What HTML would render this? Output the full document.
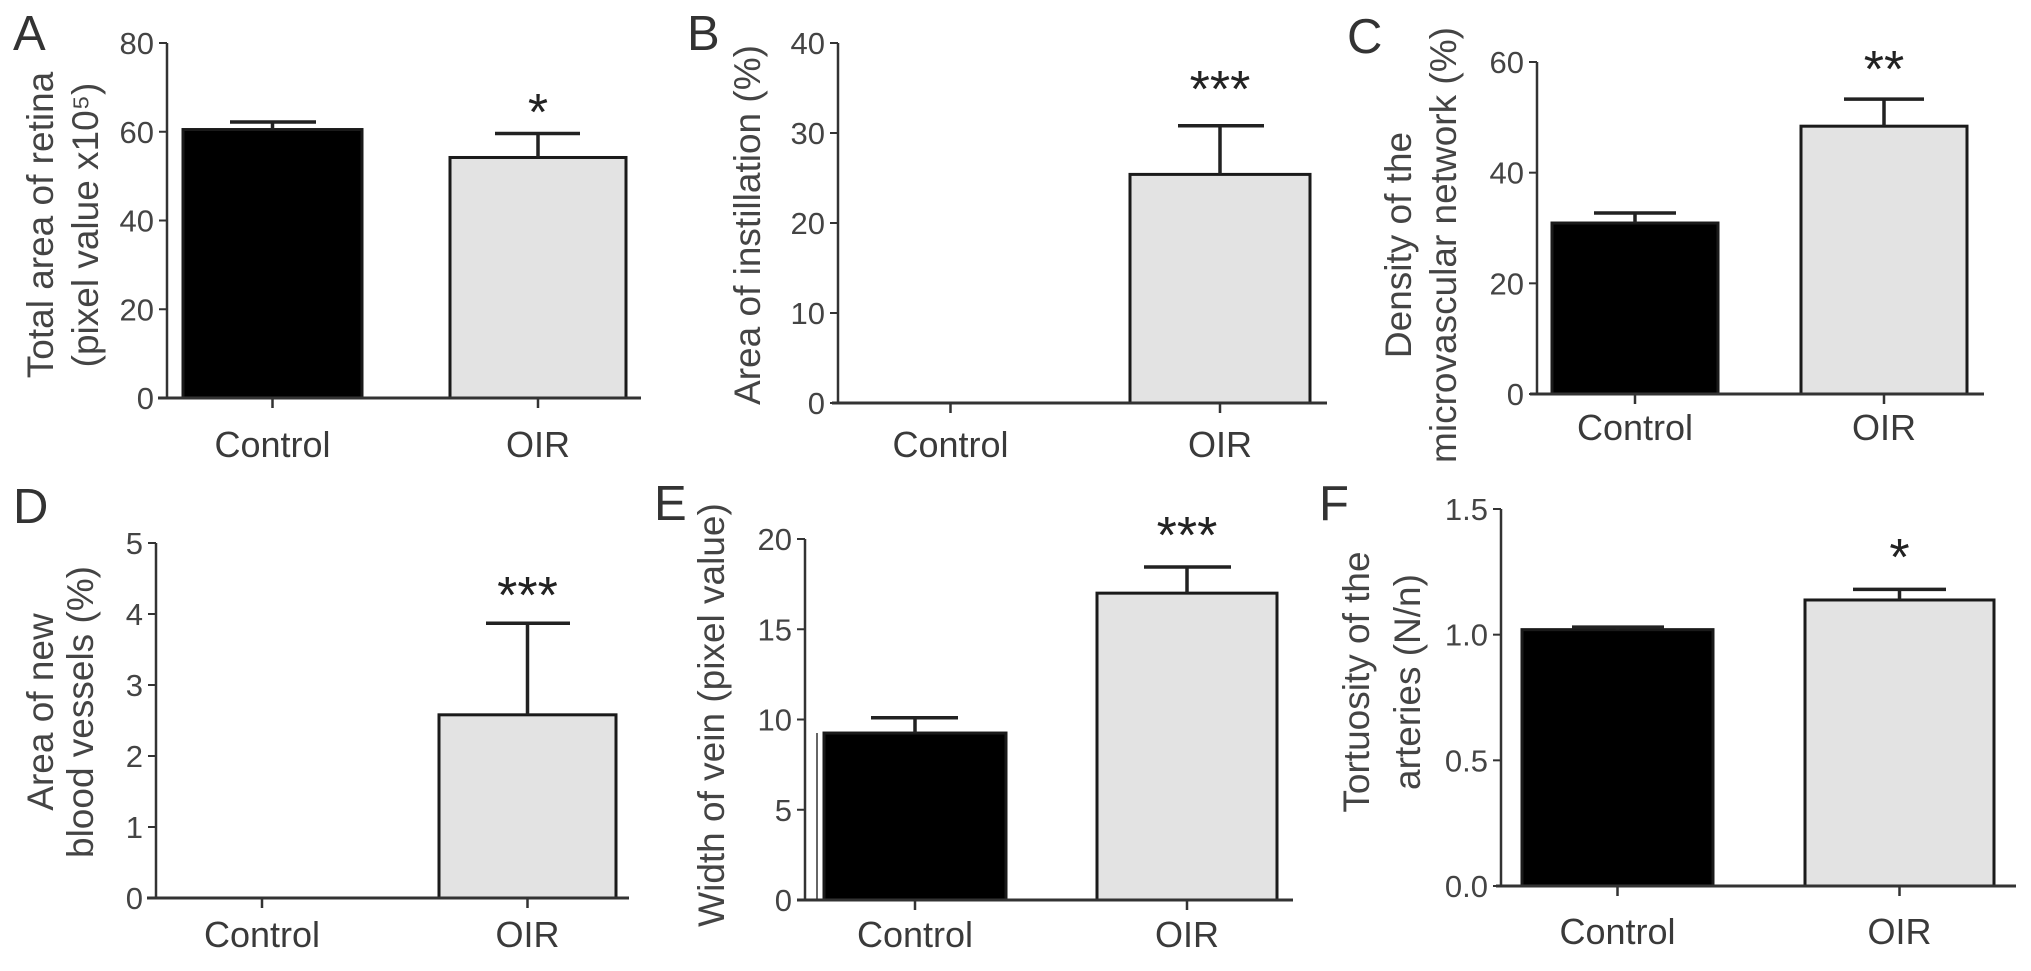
<!DOCTYPE html>
<html><head><meta charset="utf-8"><style>
html,body{margin:0;padding:0;background:#fff;}
svg{display:block;font-family:"Liberation Sans",Arial,sans-serif;}
</style></head><body>
<svg id="fig" width="2031" height="971" viewBox="0 0 2031 971" xmlns="http://www.w3.org/2000/svg"></svg>
<script>
// ---- data ----
const categories = ["Control", "OIR"];
const valuesA = [60.5, 54.2];
const errorsA = [62.2, 59.6];
const ticksA = [0, 20, 40, 60, 80];
const valuesB = [0, 25.4];
const errorsB = [0, 30.8];
const ticksB = [0, 10, 20, 30, 40];
const valuesC = [30.9, 48.4];
const errorsC = [32.7, 53.3];
const ticksC = [0, 20, 40, 60];
const valuesD = [0, 2.58];
const errorsD = [0, 3.87];
const ticksD = [0, 1, 2, 3, 4, 5];
const valuesE = [9.25, 17.0];
const errorsE = [10.1, 18.45];
const ticksE = [0, 5, 10, 15, 20];
const valuesF = [1.02, 1.138];
const errorsF = [1.03, 1.18];
const ticksF = ["0.0", "0.5", "1.0", "1.5"];
const starsA = "*", starsB = "***", starsC = "**", starsD = "***", starsE = "***", starsF = "*";

// ---- layout ----
const panels = [
 {id:"a", letter:"A", lx:13, ly:50, ax:167, y0:398, y1:43, max:80, xs:158, xe:641, bars:[[183,362],[450,626]], caps:[[230,316],[495,580]], ticks:ticksA, vals:valuesA, errs:errorsA, stars:starsA, sy:100, labY:457, title:["Total area of retina","(pixel value x10⁵)"], tx:[40,85], ty:225},
 {id:"b", letter:"B", lx:687, ly:50, ax:838, y0:403, y1:43, max:40, xs:832, xe:1327, bars:[[861,1040],[1130,1310]], caps:[[0,0],[1178,1264]], ticks:ticksB, vals:valuesB, errs:errorsB, stars:starsB, sy:77, labY:457, title:["Area of instillation (%)"], tx:[747], ty:225},
 {id:"c", letter:"C", lx:1347, ly:53, ax:1537, y0:394, y1:62, max:60, xs:1530, xe:1984, bars:[[1552,1718],[1801,1967]], caps:[[1594,1676],[1844,1924]], ticks:ticksC, vals:valuesC, errs:errorsC, stars:starsC, sy:57, labY:440, title:["Density of the","microvascular network (%)"], tx:[1398,1443], ty:245},
 {id:"d", letter:"D", lx:13, ly:523, ax:156, y0:898, y1:543, max:5, xs:147, xe:629, bars:[[173,351],[439,616]], caps:[[0,0],[486,570]], ticks:ticksD, vals:valuesD, errs:errorsD, stars:starsD, sy:583, labY:947, title:["Area of new","blood vessels (%)"], tx:[40,80], ty:712},
 {id:"e", letter:"E", lx:654, ly:520, ax:805, y0:900, y1:539, max:20, xs:797, xe:1293, bars:[[824,1006],[1097,1277]], caps:[[871,958],[1144,1231]], ticks:ticksE, vals:valuesE, errs:errorsE, stars:starsE, sy:523, labY:947, title:["Width of vein (pixel value)"], tx:[711], ty:715},
 {id:"f", letter:"F", lx:1319, ly:520, ax:1501, y0:886, y1:509, max:1.5, xs:1496, xe:2016, bars:[[1522,1713],[1805,1994]], caps:[[1572,1664],[1853,1946]], ticks:ticksF, vals:valuesF, errs:errorsF, stars:starsF, sy:545, labY:944, title:["Tortuosity of the","arteries (N/n)"], tx:[1356,1407], ty:682}
];

const NS = "http://www.w3.org/2000/svg";
const svg = document.getElementById("fig");
function mk(tag, attrs, parent, text){
  const el = document.createElementNS(NS, tag);
  for (const k in attrs) el.setAttribute(k, attrs[k]);
  if (text !== undefined) el.textContent = text;
  parent.appendChild(el);
  return el;
}

panels.forEach(p => {
  const g = mk("g", {}, svg);
  
  
  const yS = v => p.y0 - (Number(v) / p.max) * (p.y0 - p.y1);

  const L = mk("text", {x:p.lx, y:p.ly, "font-size":49, fill:"#333"}, g, p.letter);
  
  

  // bars
  p.vals.forEach((v, i) => {
    const [x0, x1] = p.bars[i];
    const top = yS(v);
    if (v > 0) {
      const r = mk("rect", {x:x0, y:top, width:x1 - x0, height:p.y0 - top,
        fill: i === 0 ? "#000" : "#e3e3e3", stroke:"#1a1a1a", "stroke-width":3}, g);
      
      
      const et = yS(p.errs[i]);
      const cx = (x0 + x1) / 2;
      const eb = mk("path", {d:`M${cx},${top} V${et} M${p.caps[i][0]},${et} H${p.caps[i][1]}`, stroke:"#222", "stroke-width":3.5, fill:"none"}, g);
      
      
    }
  });
  if (p.id === "e") {
    const art = mk("line", {x1:817, y1:yS(p.vals[0]), x2:817, y2:p.y0, stroke:"#333", "stroke-width":1.5}, g);
    
    
  }

  // axes
  const ya = mk("line", {x1:p.ax, y1:p.y1, x2:p.ax, y2:p.y0, stroke:"#333", "stroke-width":2.5}, g);
  
  
  const xa = mk("line", {x1:p.xs, y1:p.y0, x2:p.xe, y2:p.y0, stroke:"#333", "stroke-width":3}, g);
  
  

  p.ticks.forEach(t => {
    const y = yS(t);
    mk("line", {x1:p.ax - 8, y1:y, x2:p.ax, y2:y, stroke:"#333", "stroke-width":2}, g);
    const tl = mk("text", {x:p.ax - 13, y:y + 11, "font-size":31, fill:"#444", "text-anchor":"end"}, g, String(t));
    
    
  });

  categories.forEach((c, i) => {
    const cx = (p.bars[i][0] + p.bars[i][1]) / 2;
    mk("line", {x1:cx, y1:p.y0, x2:cx, y2:p.y0 + 10, stroke:"#333", "stroke-width":2.5}, g);
    const xl = mk("text", {x:cx, y:p.labY, "font-size":36, fill:"#3a3a3a", "text-anchor":"middle"}, g, c);
    
    
  });

  const scx = (p.bars[1][0] + p.bars[1][1]) / 2;
  const st = mk("text", {x:scx, y:p.sy + 30, "font-size":52, fill:"#222", "text-anchor":"middle"}, g, p.stars);
  
  

  p.title.forEach((line, k) => {
    const tx = p.tx[k];
    const t = mk("text", {x:0, y:0, "font-size":37, fill:"#444", "text-anchor":"middle",
      transform:`translate(${tx + 13},${p.ty}) rotate(-90)`}, g, line);
    
    
  });
});
</script>
</body></html>
